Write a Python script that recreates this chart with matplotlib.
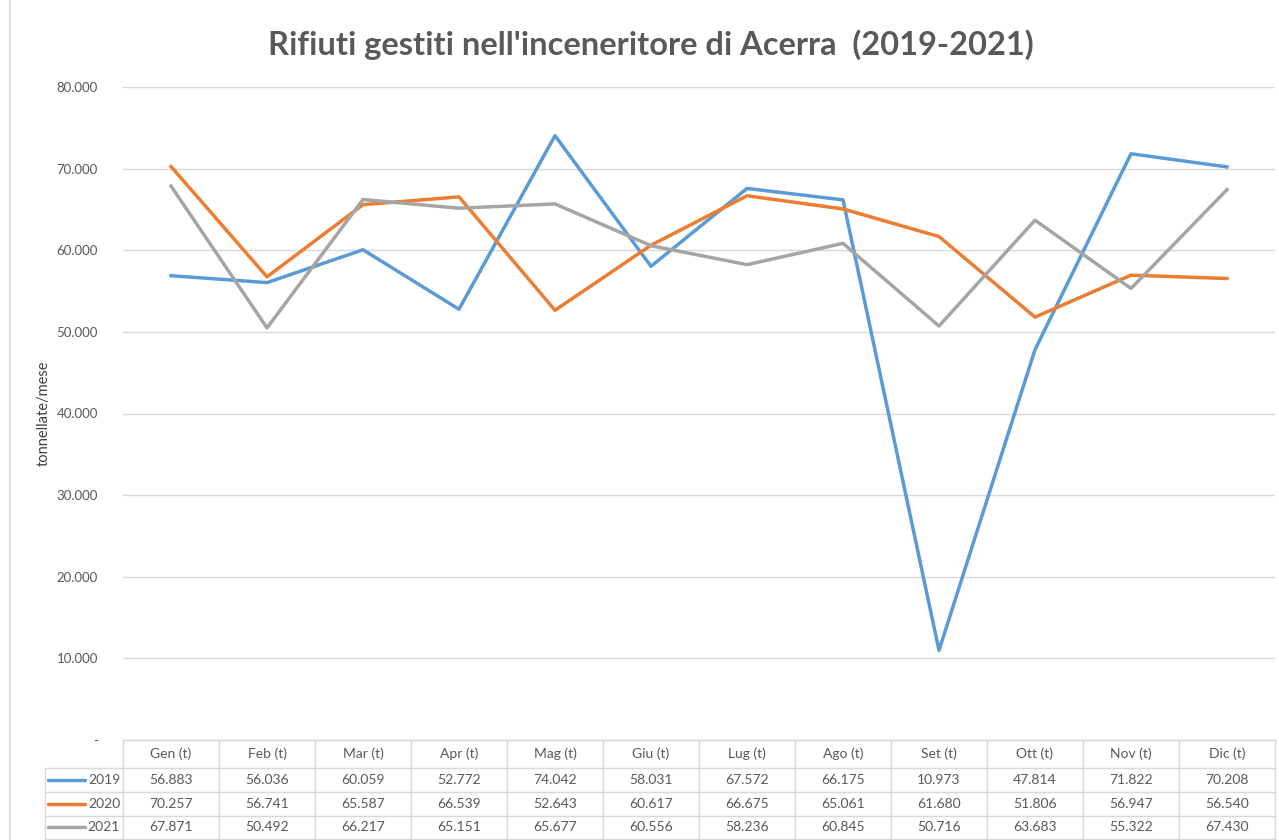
import matplotlib.pyplot as plt
from matplotlib.transforms import blended_transform_factory
from matplotlib.ticker import FuncFormatter
import numpy as np

plt.rcParams['font.family'] = ['Lato', 'DejaVu Sans']

months = ['Gen (t)', 'Feb (t)', 'Mar (t)', 'Apr (t)', 'Mag (t)', 'Giu (t)',
          'Lug (t)', 'Ago (t)', 'Set (t)', 'Ott (t)', 'Nov (t)', 'Dic (t)']
years = ['2019', '2020', '2021']
v2019 = [56883, 56036, 60059, 52772, 74042, 58031, 67572, 66175, 10973, 47814, 71822, 70208]
v2020 = [70257, 56741, 65587, 66539, 52643, 60617, 66675, 65061, 61680, 51806, 56947, 56540]
v2021 = [67871, 50492, 66217, 65151, 65677, 60556, 58236, 60845, 50716, 63683, 55322, 67430]
colors = ['#5B9BD5', '#ED7D31', '#A5A5A5']

W, H = 1279, 840
fig = plt.figure(figsize=(W / 100, H / 100), dpi=100)
ax = fig.add_axes([123 / W, 1 - 740 / H, (1275 - 123) / W, (740 - 87) / H])

x = np.arange(len(months))
series = [v2019, v2020, v2021]
for vals, c, yr in zip(series, colors, years):
    ax.plot(x, vals, color=c, lw=2.5, solid_joinstyle='round', label=yr)

ax.set_xlim(-0.5, len(months) - 0.5)
ax.set_ylim(0, 80000)
ax.set_yticks(np.arange(0, 80001, 10000))
ax.yaxis.set_major_formatter(FuncFormatter(
    lambda v, p: '-' if v == 0 else f'{int(v):,}'.replace(',', '.')))
ax.set_xticks([])
ax.grid(axis='y', color='#D9D9D9', lw=1)
ax.set_axisbelow(True)
for s in ax.spines.values():
    s.set_visible(False)
ax.tick_params(axis='y', length=0, pad=18, labelsize=9.5, labelcolor='#595959')
ax.set_ylabel('tonnellate/mese', fontsize=10.5, color='#404040', labelpad=4)

fig.text(651 / W, 1 - 45 / H, "Rifiuti gestiti nell'inceneritore di Acerra  (2019-2021)",
         ha='center', va='center', fontsize=23.5, fontweight='bold', color='#595959')

# outer chart border (left edge)
fig.add_artist(plt.Line2D([10 / W, 10 / W], [0, 1], color='#D9D9D9', lw=1.2))

# data table below the plot
tr = blended_transform_factory(ax.transData, fig.transFigure)
rows_y = [1 - 740 / H, 1 - 768 / H, 1 - 792 / H, 1 - 816 / H, 0.0015]
lab_left = -0.5 - 78 / 96
gc = '#D9D9D9'
kw = dict(transform=tr, clip_on=False, color=gc, lw=1)
ax.plot([-0.5, len(months) - 0.5], [rows_y[0]] * 2, **kw)
for yy in rows_y[1:]:
    ax.plot([lab_left, len(months) - 0.5], [yy] * 2, **kw)
for i in range(len(months) + 1):
    ax.plot([i - 0.5] * 2, [rows_y[0], rows_y[-1]], **kw)
ax.plot([lab_left] * 2, [rows_y[1], rows_y[-1]], **kw)

for i, m in enumerate(months):
    ax.text(i, (rows_y[0] + rows_y[1]) / 2, m, transform=tr, ha='center', va='center',
            fontsize=10, color='#595959')
for r, (vals, c, yr) in enumerate(zip(series, colors, years)):
    yc = (rows_y[r + 1] + rows_y[r + 2]) / 2
    for i, v in enumerate(vals):
        ax.text(i, yc, f'{v:,}'.replace(',', '.'), transform=tr, ha='center', va='center',
                fontsize=10, color='#595959')
    ax.plot([lab_left + 0.03, lab_left + 0.42], [yc, yc], transform=tr, clip_on=False,
            color=c, lw=2.5, solid_capstyle='round')
    ax.text(-0.53, yc, yr, transform=tr, ha='right', va='center', fontsize=10, color='#595959')

fig.savefig('out.png', dpi=100)
